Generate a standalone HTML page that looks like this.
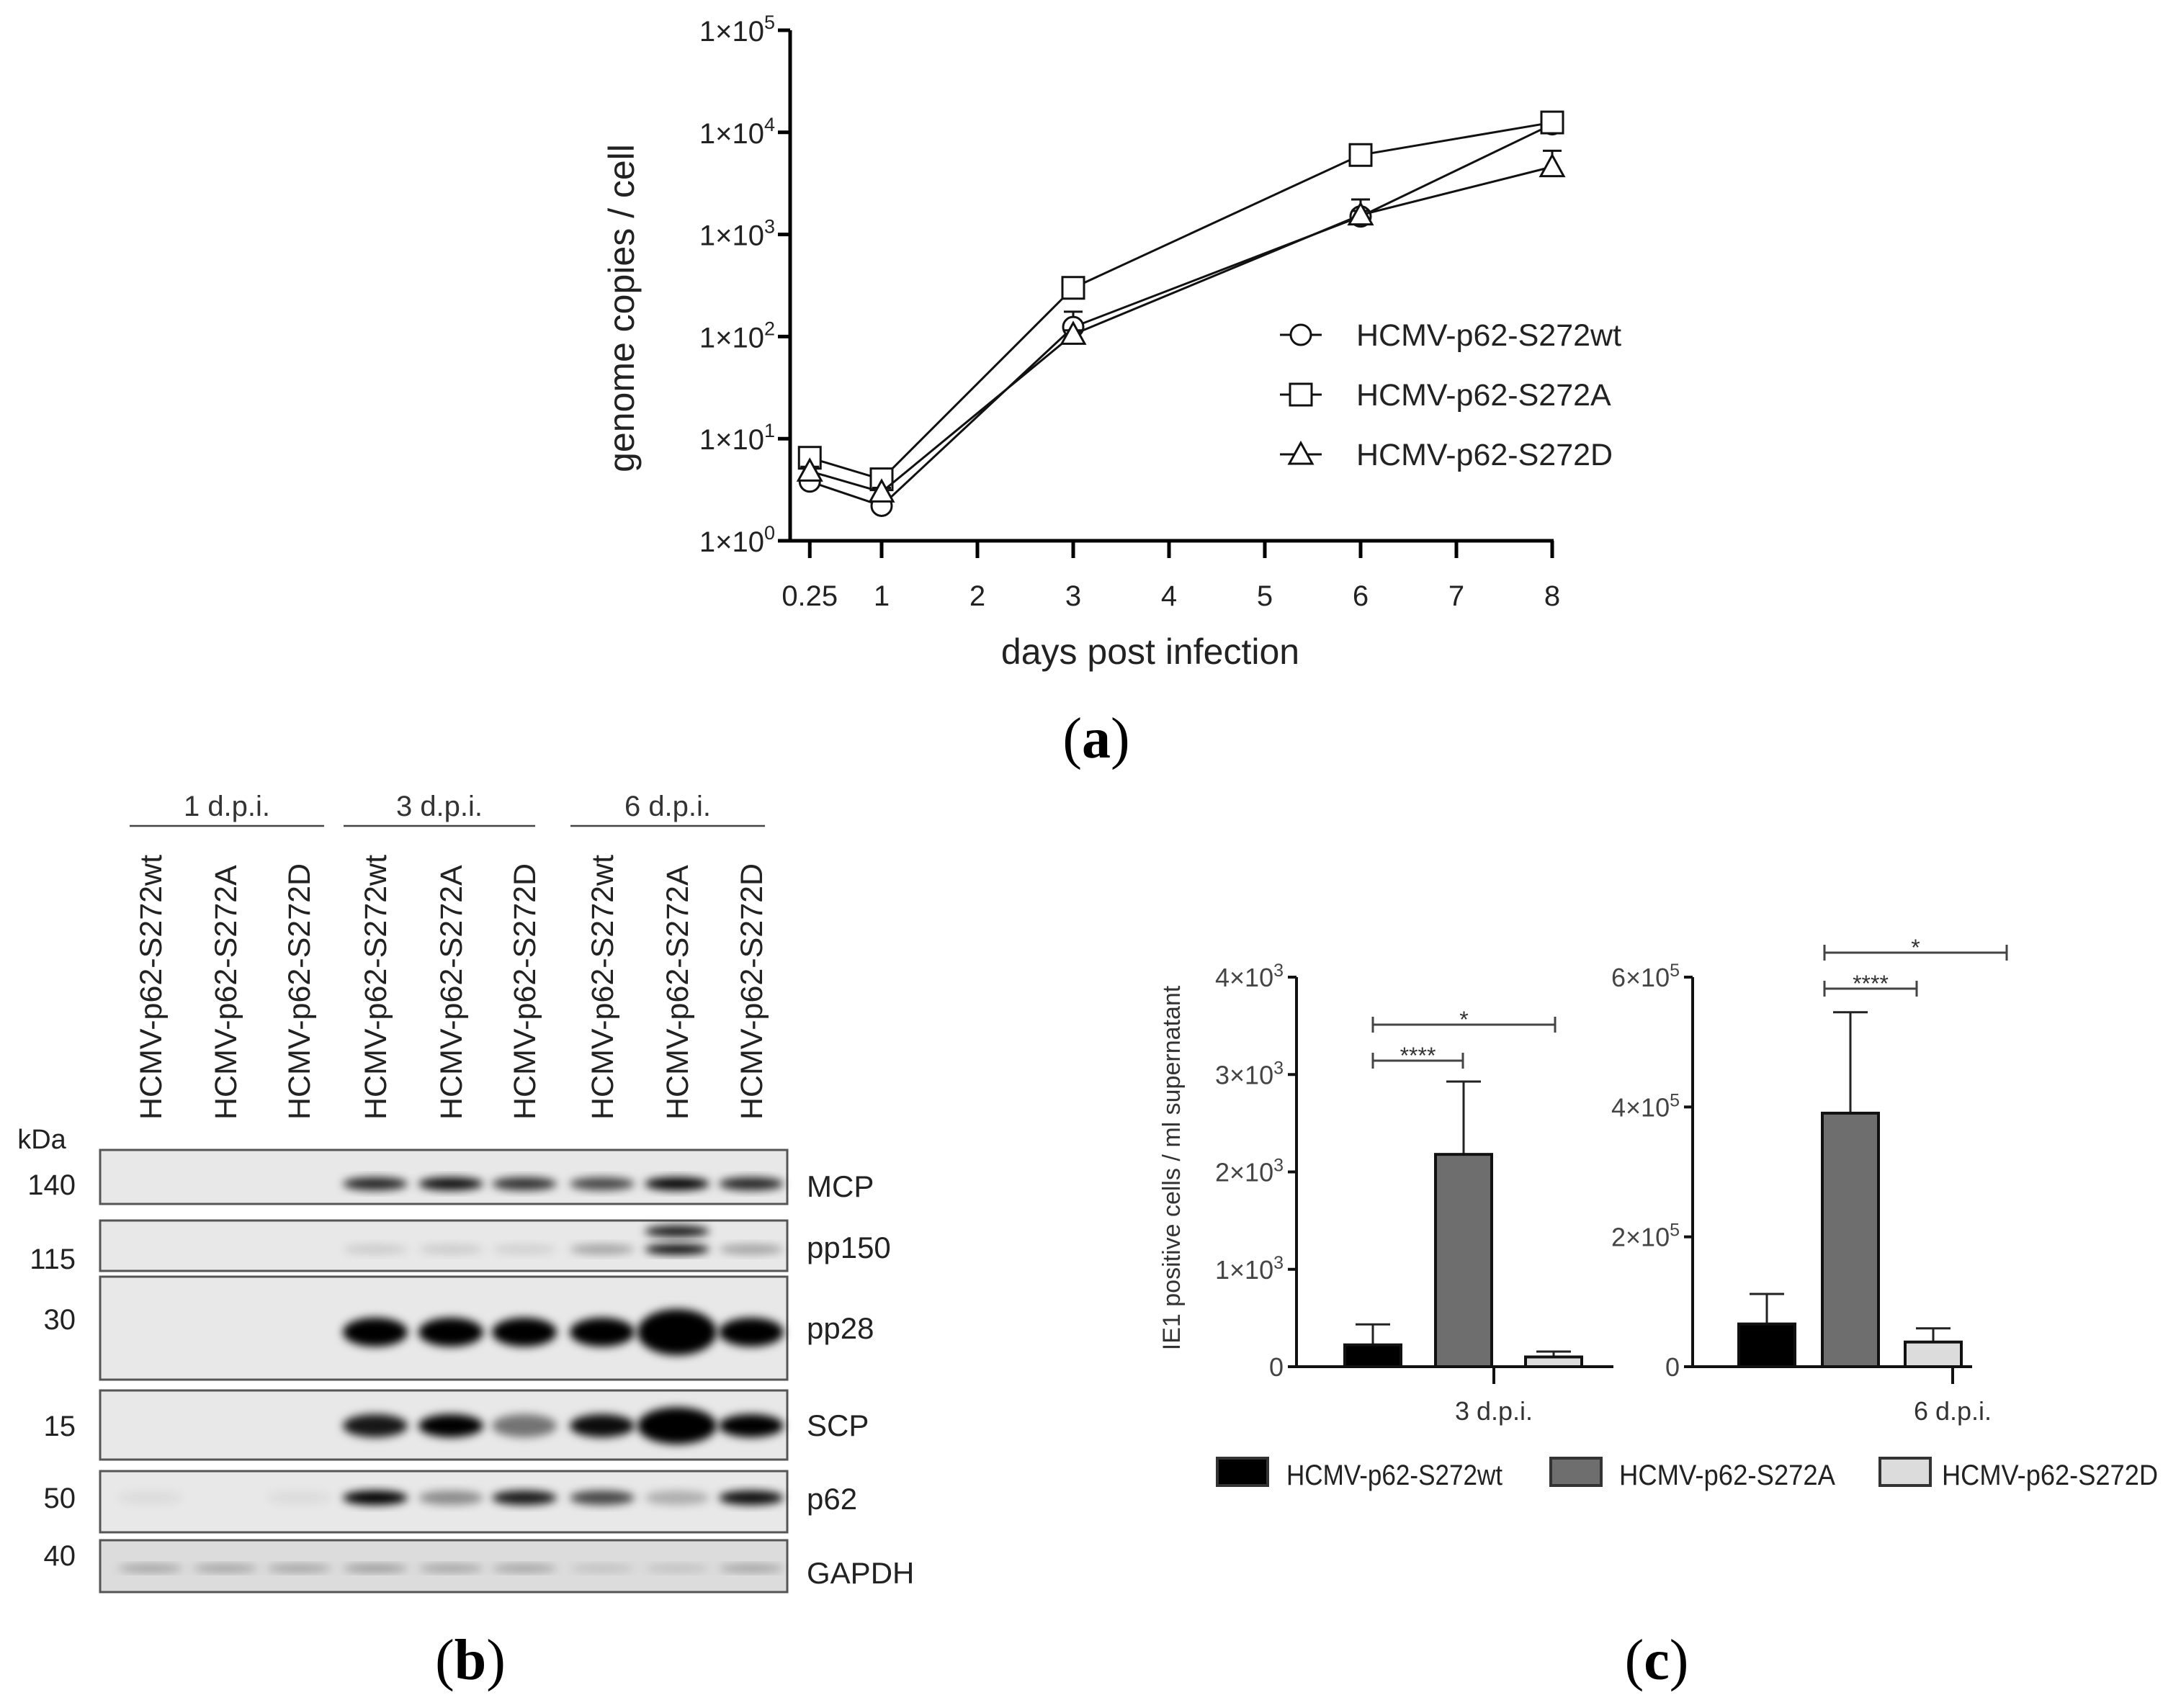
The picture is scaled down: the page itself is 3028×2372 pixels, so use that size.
<!DOCTYPE html>
<html><head><meta charset="utf-8"><style>
html,body{margin:0;padding:0;background:#fff;}
svg{display:block;font-family:"Liberation Sans",Arial,sans-serif;}
</style></head><body>
<svg id="fig" width="3028" height="2372" viewBox="0 0 3028 2372" xmlns="http://www.w3.org/2000/svg">
<defs>
<filter id="blur" x="-50%" y="-50%" width="200%" height="200%"><feGaussianBlur stdDeviation="6"/></filter>
</defs>
<g id="pa"></g>
<g id="pb"></g>
<g id="pc"></g>
<text x="1522" y="1052" font-family="Liberation Serif,serif" font-size="80" text-anchor="middle">(<tspan font-weight="bold">a</tspan>)</text>
<text x="653" y="2332" font-family="Liberation Serif,serif" font-size="80" text-anchor="middle">(<tspan font-weight="bold">b</tspan>)</text>
<text x="2300" y="2332" font-family="Liberation Serif,serif" font-size="80" text-anchor="middle">(<tspan font-weight="bold">c</tspan>)</text>
</svg>
<script>
// ---- Panel A data ----
const days = [0.25, 1, 3, 6, 8];
const xTicks = [0.25, 1, 2, 3, 4, 5, 6, 7, 8];
const yTickExps = [0, 1, 2, 3, 4, 5];
const seriesNames = ["HCMV-p62-S272wt", "HCMV-p62-S272A", "HCMV-p62-S272D"];
const wtVals = [3.8, 2.2, 124, 1500, 12000];
const aVals = [6.5, 4.0, 300, 6000, 12500];
const dVals = [4.8, 3.0, 105, 1550, 4600];
const wtErr = [4.3, 2.5, 175, 2200, 13500];
const aErr = [7.2, 4.5, 320, 6300, 15000];
const dErr = [5.3, 3.3, 115, 1700, 6600];

// ---- Panel C data ----
const barGroups = ["3 d.p.i.", "6 d.p.i."];
const bar3Vals = [224, 2180, 100];
const bar3Err = [434, 2928, 155];
const bar6Vals = [65800, 390500, 38000];
const bar6Err = [112000, 546000, 59000];
const ticks3 = [0, 1000, 2000, 3000, 4000];
const ticks3Labels = ["0", "1×10", "2×10", "3×10", "4×10"];
const ticks6 = [0, 200000, 400000, 600000];
const ticks6Labels = ["0", "2×10", "4×10", "6×10"];

// ---- Panel B data ----
const lanes = ["HCMV-p62-S272wt","HCMV-p62-S272A","HCMV-p62-S272D","HCMV-p62-S272wt","HCMV-p62-S272A","HCMV-p62-S272D","HCMV-p62-S272wt","HCMV-p62-S272A","HCMV-p62-S272D"];
const blotNames = ["MCP","pp150","pp28","SCP","p62","GAPDH"];
const blotKda = ["140","115","30","15","50","40"];
const mcpInt = [0,0,0,0.85,0.95,0.8,0.7,1,0.85];
const pp150Int = [0,0,0,0.12,0.12,0.1,0.3,1,0.3];
const pp28Int = [0,0,0,1,1,1,1,1,1];
const scpInt = [0,0,0,0.9,1,0.5,0.95,1,1];
const p62Int = [0.05,0,0.05,1,0.4,0.9,0.7,0.25,0.95];
const gapdhInt = [0.3,0.3,0.3,0.35,0.3,0.3,0.15,0.15,0.3];

const NS = "http://www.w3.org/2000/svg";
function mk(parent, tag, attrs, text) {
  const e = document.createElementNS(NS, tag);
  for (const k in attrs) e.setAttribute(k, attrs[k]);
  if (text !== undefined) e.textContent = text;
  parent.appendChild(e);
  return e;
}

// ===== Panel A =====
(function(){
  const g = document.getElementById('pa');
  const X0 = 1224, PER = 133, Y0 = 751, DEC = 141.8;
  const xs = d => X0 + (d - 1) * PER;
  const ys = v => Y0 - Math.log10(v) * DEC;
  let e;
  e = mk(g,'line',{x1:1097,y1:ys(1e5),x2:1097,y2:Y0,stroke:'#000','stroke-width':5});
   
  e = mk(g,'line',{x1:1095,y1:Y0,x2:xs(8)+2,y2:Y0,stroke:'#000','stroke-width':5});
   
  yTickExps.forEach(p=>{
    const y = ys(Math.pow(10,p));
    e = mk(g,'line',{x1:1080,y1:y,x2:1097,y2:y,stroke:'#000','stroke-width':5});
     
    const t = mk(g,'text',{x:1076,y:y+15,'font-size':40,'text-anchor':'end',fill:'#222'});
     
    t.appendChild(document.createTextNode('1×10'));
    mk(t,'tspan',{dy:-17,'font-size':27},String(p));
  });
  xTicks.forEach(d=>{
    const x = xs(d);
    e = mk(g,'line',{x1:x,y1:Y0,x2:x,y2:Y0+24,stroke:'#000','stroke-width':5});
     
    e = mk(g,'text',{x:x,y:841,'font-size':40,'text-anchor':'middle',fill:'#222'},String(d));
     
  });
  e = mk(g,'text',{x:1597,y:922,'font-size':50,'text-anchor':'middle',fill:'#222'},'days post infection');
   
  e = mk(g,'text',{x:0,y:0,'font-size':50,'text-anchor':'middle',fill:'#222',transform:'translate(880,428) rotate(-90)'},'genome copies / cell');
   

  function marker(parent, type, x, y){
    let m;
    if(type===0) m = mk(parent,'circle',{cx:x,cy:y,r:14,fill:'#fff',stroke:'#111','stroke-width':3});
    else if(type===1) m = mk(parent,'rect',{x:x-15,y:y-15,width:30,height:30,fill:'#fff',stroke:'#111','stroke-width':3});
    else m = mk(parent,'polygon',{points:`${x},${y-16} ${x-16},${y+13} ${x+16},${y+13}`,fill:'#fff',stroke:'#111','stroke-width':3});
    return m;
  }
  const allVals = [wtVals, aVals, dVals];
  const allErr = [wtErr, aErr, dErr];
  allVals.forEach((vals,si)=>{
    const sg = mk(g,'g',{});
     
    const pts = days.map((d,i)=>xs(d)+','+ys(vals[i])).join(' ');
    e = mk(sg,'polyline',{points:pts,fill:'none',stroke:'#111','stroke-width':3});
     
    days.forEach((d,i)=>{
      const x=xs(d), y=ys(vals[i]), ye=ys(allErr[si][i]);
      e = mk(sg,'path',{d:`M${x},${y} V${ye} M${x-13},${ye} H${x+13}`,stroke:'#111','stroke-width':3,fill:'none'});
       
      e = marker(sg,si,x,y);
       
    });
  });
  const legY = [465,548,631];
  seriesNames.forEach((n,i)=>{
    const lg = mk(g,'g',{});
     
    mk(lg,'line',{x1:1777,y1:legY[i],x2:1835,y2:legY[i],stroke:'#111','stroke-width':3});
    marker(lg,i,1806,legY[i]);
    mk(lg,'text',{x:1883,y:legY[i]+15,'font-size':43,fill:'#222'},n);
  });
})();

// ===== Panel B =====
(function(){
  const g = document.getElementById('pb');
  const laneX = [209,313,415,521,626,728,836,940,1043];
  let e;
  const groups = [["1 d.p.i.",180,450],["3 d.p.i.",477,743],["6 d.p.i.",792,1062]];
  groups.forEach(gr=>{
    e = mk(g,'text',{x:(gr[1]+gr[2])/2,y:1133,'font-size':40,'text-anchor':'middle',fill:'#333'},gr[0]);
     
    e = mk(g,'line',{x1:gr[1],y1:1147,x2:gr[2],y2:1147,stroke:'#444','stroke-width':2.5});
     
  });
  lanes.forEach((n,i)=>{
    e = mk(g,'text',{x:0,y:0,'font-size':43,fill:'#222',transform:`translate(${laneX[i]+15},1555) rotate(-90)`},n);
     
  });
  e = mk(g,'text',{x:58,y:1595,'font-size':38,'text-anchor':'middle',fill:'#222'},'kDa');
   
  const blots = [
    {y:1597,h:75,int:mcpInt,by:1644,bh:18,kdy:1645,ny:1648},
    {y:1695,h:70,int:pp150Int,by:1735,bh:14,kdy:1748,ny:1733},
    {y:1773,h:143,int:pp28Int,by:1850,bh:40,kdy:1832,ny:1845},
    {y:1931,h:96,int:scpInt,by:1980,bh:32,kdy:1980,ny:1980},
    {y:2043,h:85,int:p62Int,by:2080,bh:20,kdy:2080,ny:2082},
    {y:2139,h:72,int:gapdhInt,by:2178,bh:10,kdy:2160,ny:2185}
  ];
  blots.forEach((b,bi)=>{
    const bg = mk(g,'g',{});
     
    mk(bg,'rect',{x:139,y:b.y,width:954,height:b.h,fill:bi===5?'#dcdcdc':'#e8e8e8',stroke:'#555','stroke-width':3});
    b.int.forEach((v,i)=>{
      if(v<=0) return;
      let w = 90, h = b.bh;
      if(i===7 && (bi===2||bi===3)) { w=110; h=b.bh*1.6; }
      e = mk(bg,'ellipse',{cx:laneX[i],cy:b.by,rx:w/2,ry:h/2,fill:'#000','fill-opacity':v,filter:'url(#blur)'});
       
    });
    if(bi===1){
      e = mk(bg,'ellipse',{cx:laneX[7],cy:1710,rx:45,ry:8,fill:'#000','fill-opacity':0.9,filter:'url(#blur)'});
       
    }
    e = mk(g,'text',{x:105,y:b.kdy+14,'font-size':40,'text-anchor':'end',fill:'#222'},blotKda[bi]);
     
    e = mk(g,'text',{x:1120,y:b.ny+14,'font-size':42,fill:'#222'},blotNames[bi]);
     
  });
})();

// ===== Panel C =====
(function(){
  const g = document.getElementById('pc');
  const Y0 = 1898, YTOP = 1357;
  const fills = ['#000','#6e6e6e','#dcdcdc'];
  let e;
  function chart(ax, axEnd, tickX, maxV, ticks, tlabels, exp, barX, vals, errs, label, sig){
    const ys = v => Y0 - v/maxV*(Y0-YTOP);
    e = mk(g,'line',{x1:ax,y1:YTOP,x2:ax,y2:Y0+2,stroke:'#111','stroke-width':4});
     
    e = mk(g,'line',{x1:ax,y1:Y0,x2:axEnd,y2:Y0,stroke:'#111','stroke-width':4});
     
    e = mk(g,'line',{x1:tickX,y1:Y0,x2:tickX,y2:Y0+24,stroke:'#111','stroke-width':4});
     
    ticks.forEach((t,i)=>{
      const y = ys(t);
      e = mk(g,'line',{x1:ax-12,y1:y,x2:ax,y2:y,stroke:'#111','stroke-width':4});
       
      const tx = mk(g,'text',{x:ax-18,y:y+13,'font-size':36,'text-anchor':'end',fill:'#444'});
       
      tx.appendChild(document.createTextNode(tlabels[i]));
      if(t!==0) mk(tx,'tspan',{dy:-14,'font-size':25},String(exp));
    });
    vals.forEach((v,i)=>{
      const x = barX[i], w = 78, cx = x + w/2;
      e = mk(g,'path',{d:`M${cx},${ys(v)} V${ys(errs[i])} M${cx-24},${ys(errs[i])} H${cx+24}`,stroke:'#222','stroke-width':3,fill:'none'});
       
      e = mk(g,'rect',{x:x,y:ys(v),width:w,height:Y0-ys(v),fill:fills[i],stroke:'#111','stroke-width':4});
       
    });
    e = mk(g,'text',{x:tickX,y:1972,'font-size':36,'text-anchor':'middle',fill:'#333'},label);
     
    sig.forEach(s=>{
      e = mk(g,'path',{d:`M${s[0]},${s[2]} H${s[1]} M${s[0]},${s[2]-11} V${s[2]+11} M${s[1]},${s[2]-11} V${s[2]+11}`,stroke:'#444','stroke-width':3,fill:'none'});
       
      e = mk(g,'text',{x:(s[0]+s[1])/2,y:s[2]+4,'font-size':32,'text-anchor':'middle',fill:'#333'},s[3]);
       
    });
  }
  chart(1800,2240,2074,4000,ticks3,ticks3Labels,3,[1867,1993,2118],bar3Vals,bar3Err,barGroups[0],
    [[1906,2159,1423,'*'],[1906,2031,1473,'****']]);
  chart(2350,2738,2711,600000,ticks6,ticks6Labels,5,[2414,2530,2645],bar6Vals,bar6Err,barGroups[1],
    [[2533,2786,1323,'*'],[2533,2661,1373,'****']]);
  e = mk(g,'text',{x:0,y:0,'font-size':34,'text-anchor':'middle',fill:'#333',transform:'translate(1638,1622) rotate(-90)'},'IE1 positive cells / ml supernatant');
   
  const legX = [1690,2153,2610];
  const legTX = [1786,2248,2696];
  seriesNames.forEach((n,i)=>{
    const lg = mk(g,'g',{});
     
    mk(lg,'rect',{x:legX[i],y:2025,width:70,height:38,fill:fills[i],stroke:'#333','stroke-width':4});
    mk(lg,'text',{x:legTX[i],y:2062,'font-size':40,fill:'#222',textLength:300,lengthAdjust:'spacingAndGlyphs'},n);
  });
})();
</script>
</body></html>
